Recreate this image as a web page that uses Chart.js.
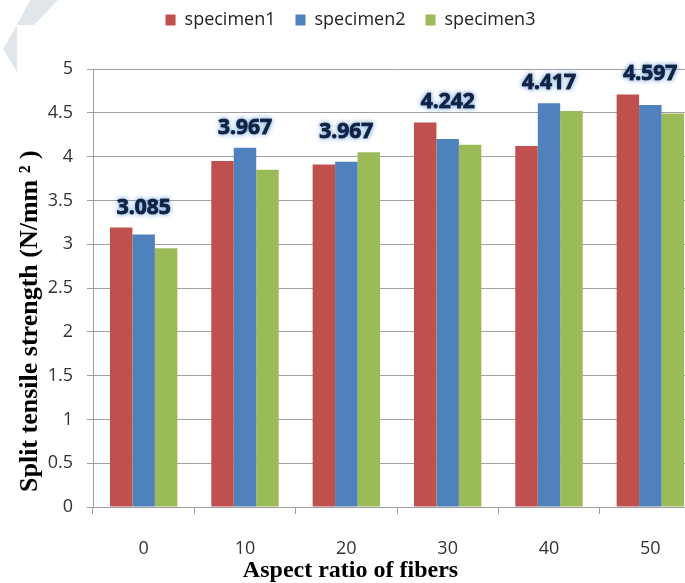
<!DOCTYPE html>
<html>
<head>
<meta charset="utf-8">
<title>Split tensile strength vs aspect ratio of fibers</title>
<script src="https://cdn.jsdelivr.net/npm/chart.js@4/dist/chart.umd.min.js"></script>
<style>
  html, body { margin: 0; padding: 0; background: #fff; overflow: hidden; width: 685px; height: 583px; }
  #wrap { position: relative; width: 705px; height: 583px; }
</style>
</head>
<body>
<div id="wrap"><canvas id="chart" width="705" height="583"></canvas></div>
<script>
// Aspect ratio of fibers (x categories)
const aspectRatios = ['0', '10', '20', '30', '40', '50'];

// Split tensile strength, N/mm², for each specimen
const specimen1 = [3.19, 3.95, 3.91, 4.39, 4.12, 4.71];
const specimen2 = [3.11, 4.10, 3.94, 4.20, 4.61, 4.59];
const specimen3 = [2.955, 3.85, 4.05, 4.136, 4.521, 4.491];

const seriesNames = ['specimen1', 'specimen2', 'specimen3'];
const seriesColors = ['#c0504d', '#4f81bd', '#9bbb59'];

// Y axis range and step
const yMin = 0;
const yMax = 5;
const yStep = 0.5;

const xTitle = 'Aspect ratio of fibers';
const yTitle = 'Split tensile strength (N/mm \u00B2 )';

const tickFont = { family: "'Open Sans', sans-serif", size: 18 };
const axisGrey = '#a0a0a0';

// Faint decorative corner shape behind the chart
const cornerShape = {
  id: 'cornerShape',
  beforeDraw(chart) {
    const { ctx } = chart;
    ctx.save();
    ctx.fillStyle = '#e1e6eb';
    ctx.beginPath();
    ctx.moveTo(30, 0); ctx.lineTo(58, 0); ctx.lineTo(34, 25); ctx.lineTo(17, 25);
    ctx.closePath(); ctx.fill();
    ctx.beginPath();
    ctx.moveTo(17, 25); ctx.lineTo(3, 49); ctx.lineTo(17, 72);
    ctx.closePath(); ctx.fill();
    ctx.restore();
  }
};

// Extra room between the legend and the plot
const legendGap = {
  id: 'legendGap',
  beforeLayout(chart) {
    const lg = chart.legend;
    if (lg && !lg._gapPatched) {
      const fit = lg.fit;
      lg.fit = function () { fit.call(this); this.height += 30; };
      lg._gapPatched = true;
    }
  }
};

// Mean of the three specimens, written above each group with a soft glow
const meanLabels = {
  id: 'meanLabels',
  afterDatasetsDraw(chart) {
    const { ctx } = chart;
    const xs = chart.scales.x;
    ctx.save();
    ctx.font = "bold 21px 'Open Sans', sans-serif";
    ctx.textAlign = 'center';
    ctx.textBaseline = 'middle';
    aspectRatios.forEach((_, i) => {
      let top = Infinity;
      chart.data.datasets.forEach((ds, d) => {
        const el = chart.getDatasetMeta(d).data[i];
        top = Math.min(top, el.y);
      });
      const mean = (specimen1[i] + specimen2[i] + specimen3[i]) / 3;
      const txt = mean.toFixed(3);
      const x = xs.getPixelForValue(i);
      const y = top - 20;
      ctx.shadowColor = 'rgba(120,160,215,1)';
      ctx.shadowBlur = 5;
      ctx.strokeStyle = '#0f2342';
      ctx.fillStyle = '#0f2342';
      ctx.lineWidth = 1;
      ctx.strokeText(txt, x, y);
      ctx.fillText(txt, x, y);
      ctx.shadowBlur = 0;
      ctx.fillText(txt, x, y);
    });
    ctx.restore();
  }
};

// Vertical axis title, set near the bottom of the axis
const yAxisTitle = {
  id: 'yAxisTitle',
  afterDraw(chart) {
    const { ctx, chartArea } = chart;
    ctx.save();
    ctx.translate(30, chartArea.bottom - 15);
    ctx.rotate(-Math.PI / 2);
    ctx.font = "bold 26px 'Liberation Serif', serif";
    ctx.fillStyle = '#000';
    ctx.textAlign = 'left';
    ctx.textBaseline = 'middle';
    ctx.fillText(yTitle, 0, 0);
    ctx.restore();
  }
};

const seriesValues = [specimen1, specimen2, specimen3];

new Chart(document.getElementById('chart'), {
  type: 'bar',
  data: {
    labels: aspectRatios,
    datasets: seriesValues.map((vals, k) => ({
      label: seriesNames[k],
      data: vals,
      backgroundColor: seriesColors[k],
      borderWidth: 0,
      barPercentage: 1,
      categoryPercentage: 0.665
    }))
  },
  options: {
    responsive: false,
    animation: false,
    devicePixelRatio: 1,
    layout: { padding: { top: -9, right: 4, left: 0, bottom: 0 } },
    plugins: {
      legend: {
        position: 'top',
        labels: {
          boxWidth: 10,
          boxHeight: 11,
          padding: 20,
          color: '#222',
          font: tickFont
        }
      },
      title: {
        display: true,
        position: 'bottom',
        text: xTitle,
        color: '#000',
        font: { family: "'Liberation Serif', serif", size: 24, weight: 'bold', lineHeight: 1 },
        padding: 0
      },
      tooltip: { enabled: false }
    },
    scales: {
      x: {
        grid: { display: true, offset: true, drawOnChartArea: false, drawTicks: true, tickLength: 7, color: axisGrey },
        border: { color: axisGrey },
        ticks: { padding: 24, color: '#333', font: tickFont },
        afterFit(s) { s.height = 52; }
      },
      y: {
        min: yMin,
        max: yMax,
        ticks: {
          stepSize: yStep,
          padding: 14,
          color: '#333',
          font: tickFont,
          callback: (v) => String(Number(v))
        },
        grid: { color: axisGrey, tickLength: 6 },
        border: { color: axisGrey },
        afterFit(s) { s.width = 93; }
      }
    }
  },
  plugins: [cornerShape, legendGap, meanLabels, yAxisTitle]
});
</script>
</body>
</html>
